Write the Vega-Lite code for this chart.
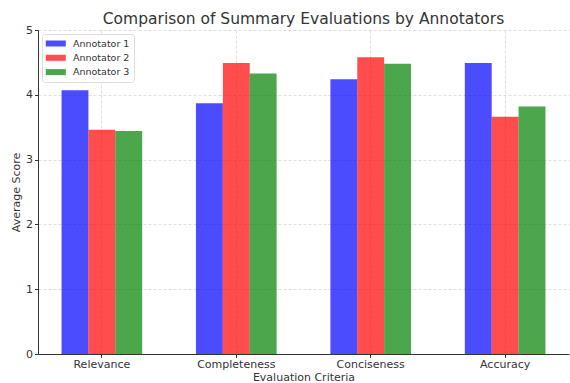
{
  "$schema": "https://vega.github.io/schema/vega-lite/v6.json",
  "autosize": "none",
  "width": 531,
  "height": 324,
  "padding": {"left": 38, "top": 30, "right": 1, "bottom": 29},
  "background": "white",
  "title": {
    "text": "Comparison of Summary Evaluations by Annotators",
    "font": "DejaVu Sans",
    "fontSize": 15.5,
    "fontWeight": "normal",
    "color": "#333333",
    "offset": -3,
    "anchor": "middle"
  },
  "config": {
    "view": {"stroke": null},
    "font": "DejaVu Sans"
  },
  "data": {
    "values": [
      {"criteria": "Relevance", "annotator": "Annotator 1", "score": 4.07},
      {"criteria": "Relevance", "annotator": "Annotator 2", "score": 3.46},
      {"criteria": "Relevance", "annotator": "Annotator 3", "score": 3.44},
      {"criteria": "Completeness", "annotator": "Annotator 1", "score": 3.87},
      {"criteria": "Completeness", "annotator": "Annotator 2", "score": 4.49},
      {"criteria": "Completeness", "annotator": "Annotator 3", "score": 4.33},
      {"criteria": "Conciseness", "annotator": "Annotator 1", "score": 4.24},
      {"criteria": "Conciseness", "annotator": "Annotator 2", "score": 4.58},
      {"criteria": "Conciseness", "annotator": "Annotator 3", "score": 4.48},
      {"criteria": "Accuracy", "annotator": "Annotator 1", "score": 4.49},
      {"criteria": "Accuracy", "annotator": "Annotator 2", "score": 3.66},
      {"criteria": "Accuracy", "annotator": "Annotator 3", "score": 3.82}
    ]
  },
  "mark": {"type": "bar", "opacity": 0.7},
  "encoding": {
    "x": {
      "field": "criteria",
      "type": "nominal",
      "sort": ["Relevance", "Completeness", "Conciseness", "Accuracy"],
      "scale": {"paddingInner": 0.4, "paddingOuter": 0.175},
      "axis": {
        "title": "Evaluation Criteria",
        "titleFont": "DejaVu Sans",
        "titleFontSize": 11,
        "titleFontWeight": "normal",
        "titleColor": "#333333",
        "titlePadding": 2,
        "labelAngle": 0,
        "labelFontSize": 11,
        "labelColor": "#333333",
        "labelPadding": 1,
        "domainColor": "#333333",
        "tickColor": "#333333",
        "tickSize": 3.5,
        "bandPosition": 0.5,
        "grid": true,
        "gridColor": "#d0d0d0",
        "gridDash": [3, 2],
        "gridWidth": 0.7
      }
    },
    "xOffset": {
      "field": "annotator",
      "type": "nominal",
      "scale": {"paddingInner": 0, "paddingOuter": 0}
    },
    "y": {
      "field": "score",
      "type": "quantitative",
      "scale": {"domain": [0, 5], "nice": false},
      "axis": {
        "title": "Average Score",
        "titleFont": "DejaVu Sans",
        "titleFontSize": 11,
        "titleFontWeight": "normal",
        "titleColor": "#333333",
        "titlePadding": 4,
        "values": [0, 1, 2, 3, 4, 5],
        "labelFontSize": 11,
        "labelColor": "#333333",
        "labelPadding": 2,
        "domainColor": "#333333",
        "tickColor": "#333333",
        "tickSize": 3.5,
        "grid": true,
        "gridColor": "#d0d0d0",
        "gridDash": [3, 2],
        "gridWidth": 0.7
      }
    },
    "color": {
      "field": "annotator",
      "type": "nominal",
      "scale": {
        "domain": ["Annotator 1", "Annotator 2", "Annotator 3"],
        "range": ["#0000ff", "#ff0000", "#008000"]
      },
      "legend": {
        "title": null,
        "orient": "top-left",
        "offset": 4,
        "symbolType": "M-2,-0.6H2V0.6H-2Z",
        "symbolSize": 100,
        "symbolOpacity": 0.7,
        "symbolStrokeWidth": 0,
        "symbolOffset": 4.3,
        "labelFontSize": 9.5,
        "labelColor": "#333333",
        "labelOffset": 12.2,
        "rowPadding": 4.3,
        "fillColor": "white",
        "strokeColor": "#dddddd",
        "padding": 4.5,
        "cornerRadius": 3
      }
    }
  }
}
